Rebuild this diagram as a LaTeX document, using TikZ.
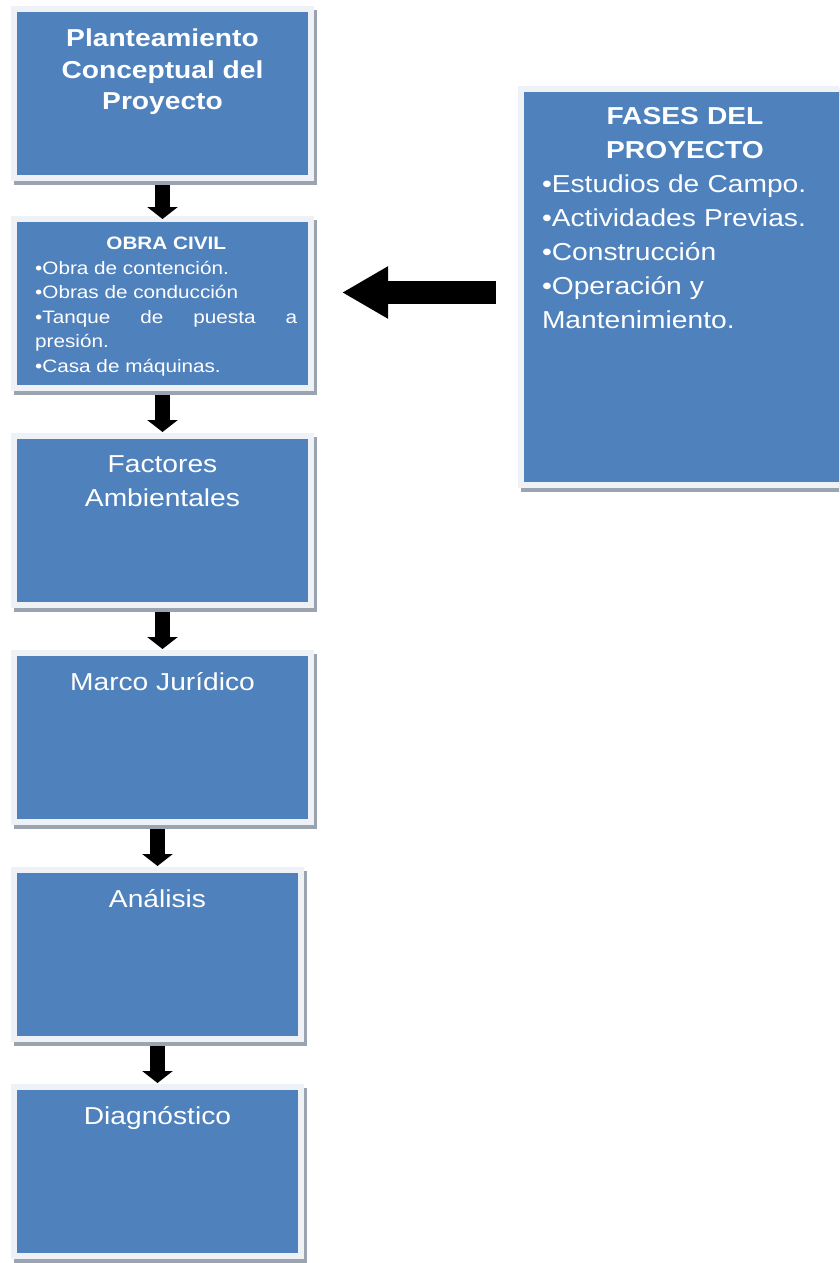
\documentclass[tikz,border=0pt]{standalone}
\usepackage{fontspec}
\setmainfont[FakeStretch=1.15]{Liberation Sans}
\usepackage{xcolor}
\usepackage{tikz}
\usetikzlibrary{arrows.meta,positioning,shadows}

\definecolor{boxblue}{HTML}{4F81BD}
\definecolor{framecol}{HTML}{EEF2F7}
\definecolor{shadowgray}{HTML}{9AA3AF}

\begin{document}
\begin{tikzpicture}[x=1pt,y=-1pt,node distance=48pt,
  stagebox/.style={fill=boxblue, draw=framecol, line width=6pt, inner sep=0pt,
    outer sep=0pt, minimum width=297pt, minimum height=169pt,
    drop shadow={shadow xshift=3pt, shadow yshift=-4pt, fill=shadowgray,
      draw=shadowgray, line width=6pt, opacity=1}},
  boxtext/.style={anchor=north, text=white, align=center, inner xsep=0pt,
    inner ysep=19pt, font=\fontsize{24.5}{34}\selectfont},
  flowarrow/.style={line width=15pt, -{Triangle[width=30pt,length=12pt]},
    shorten <=7pt, shorten >=4pt},
  bigarrow/.style={line width=23pt, -{Triangle[width=49pt,length=46pt]}}]

\useasboundingbox (0,0) rectangle (839,1263);
\clip (0,0) rectangle (839,1263);

\node[stagebox] (plan) at (162.5,93.5) {};
\node[boxtext, inner ysep=20pt, font=\bfseries\fontsize{24.5}{31.5}\selectfont] (plantxt)
  at (plan.north) {Planteamiento\\Conceptual del\\Proyecto};

\node[stagebox, below=41pt of plan] (obra) {};
\node[boxtext, anchor=north west, align=justify, text width=262pt, inner ysep=18pt,
  font=\fontsize{18}{24.5}\selectfont] (obratxt) at ([xshift=21pt]obra.north west)
  {{\centering\bfseries OBRA CIVIL\par}
   •Obra de contención.\par
   •Obras de conducción\par
   \makebox[\linewidth][s]{•Tanque de puesta a}\par
   presión.\par
   •Casa de máquinas.\par};

\node[stagebox, below=of obra] (factores) {};
\node[boxtext] (factxt) at (factores.north) {Factores\\Ambientales};

\node[stagebox, below=of factores] (marco) {};
\node[boxtext] (marcotxt) at (marco.north) {Marco Jurídico};

\node[stagebox, minimum width=287pt, below=of marco.south west, anchor=north west] (analisis) {};
\node[boxtext] (analtxt) at (analisis.north) {Análisis};

\node[stagebox, minimum width=287pt, below=of analisis] (diag) {};
\node[boxtext] (diagtxt) at (diag.north) {Diagnóstico};

\node[stagebox, minimum width=328pt, minimum height=396pt] (fases) at (685,287) {};
\node[boxtext, text width=286pt, align=left, inner ysep=18pt] (fasestxt) at (fases.north)
  {{\centering\bfseries FASES DEL\\PROYECTO\par}
   •Estudios de Campo.\\
   •Actividades Previas.\\
   •Construcción\\
   •Operación y\\
   Mantenimiento.};

\draw[flowarrow, shorten >=0pt] (plan) -- (obra);
\draw[flowarrow] (obra) -- (factores);
\draw[flowarrow] (factores) -- (marco);
\draw[flowarrow] (analisis.north |- marco.south) -- (analisis.north);
\draw[flowarrow] (analisis) -- (diag);

\draw[bigarrow, shorten <=25pt, shorten >=31pt]
  ([yshift=-5.5pt]fases.west) -- ([yshift=-5.5pt]fases.west -| obra.east);
\end{tikzpicture}
\end{document}
